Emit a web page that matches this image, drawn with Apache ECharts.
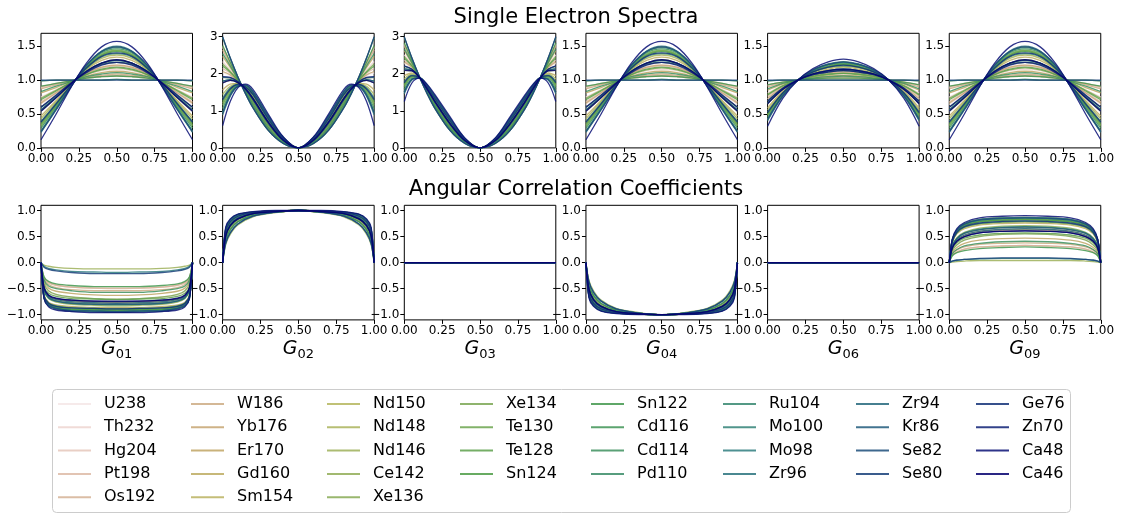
<!DOCTYPE html>
<html><head><meta charset="utf-8">
<script src="https://cdn.jsdelivr.net/npm/echarts@6/dist/echarts.min.js"></script>
<style>html,body{margin:0;padding:0;background:#fff}#c{width:1126px;height:515px}</style>
</head><body><div id="c"></div>
<script>
const isotopes = ['U238','Th232','Hg204','Pt198','Os192','W186','Yb176','Er170','Gd160','Sm154','Nd150','Nd148','Nd146','Ce142','Xe136','Xe134','Te130','Te128','Sn124','Sn122','Cd116','Cd114','Pd110','Ru104','Mo100','Mo98','Zr96','Zr94','Kr86','Se82','Se80','Ge76','Zn70','Ca48','Ca46'];
const xTop = [0,.1,.2,.3,.4,.5,.6,.7,.8,.9,1];
const xTop23 = [0,.05,.1,.15,.2,.3,.4,.5,.6,.7,.8,.85,.9,.95,1];
const xBot = [0,.02,.05,.1,.2,.35,.5,.65,.8,.9,.95,.98,1];
const xFlat = [0,1];
const xTickLabels = ['0.00','0.25','0.50','0.75','1.00'];
const xTickValues = [0,.25,.5,.75,1];
const yTicksSpec = [0,.5,1,1.5];
const yTicksSpec23 = [0,1,2,3];
const yTicksCorr = [-1,-.5,0,.5,1];
const panelLabels = ['01','02','03','04','06','09'];

const spec01 = [
[.64,.80,.96,1.10,1.20,1.23,1.20,1.10,.96,.80,.64],
[.75,.86,.97,1.07,1.14,1.16,1.14,1.07,.97,.86,.75],
[.89,.94,.99,1.03,1.06,1.07,1.06,1.03,.99,.94,.89],
[.68,.82,.96,1.09,1.18,1.21,1.18,1.09,.96,.82,.68],
[.90,.95,.99,1.03,1.05,1.06,1.05,1.03,.99,.95,.90],
[.87,.93,.99,1.04,1.07,1.09,1.07,1.04,.99,.93,.87],
[.66,.81,.96,1.10,1.19,1.22,1.19,1.10,.96,.81,.66],
[.81,.89,.98,1.06,1.11,1.13,1.11,1.06,.98,.89,.81],
[.47,.70,.94,1.15,1.29,1.34,1.29,1.15,.94,.70,.47],
[.60,.77,.95,1.12,1.23,1.26,1.23,1.12,.95,.77,.60],
[.24,.57,.91,1.22,1.42,1.49,1.42,1.22,.91,.57,.24],
[.43,.68,.94,1.16,1.32,1.37,1.32,1.16,.94,.68,.43],
[.99,1.00,1.00,1.00,1.00,1.01,1.00,1.00,1.00,1.00,.99],
[.54,.74,.95,1.13,1.25,1.30,1.25,1.13,.95,.74,.54],
[.34,.63,.93,1.19,1.37,1.43,1.37,1.19,.93,.63,.34],
[.73,.85,.97,1.08,1.15,1.18,1.15,1.08,.97,.85,.73],
[.32,.62,.92,1.19,1.38,1.44,1.38,1.19,.92,.62,.32],
[.71,.84,.97,1.08,1.16,1.19,1.16,1.08,.97,.84,.71],
[.36,.64,.93,1.18,1.36,1.42,1.36,1.18,.93,.64,.36],
[.91,.95,.99,1.03,1.05,1.06,1.05,1.03,.99,.95,.91],
[.29,.60,.92,1.20,1.40,1.46,1.40,1.20,.92,.60,.29],
[.83,.91,.98,1.05,1.09,1.11,1.09,1.05,.98,.91,.83],
[.39,.66,.93,1.17,1.34,1.39,1.34,1.17,.93,.66,.39],
[.56,.75,.95,1.13,1.25,1.29,1.25,1.13,.95,.75,.56],
[.25,.58,.92,1.21,1.42,1.48,1.42,1.21,.92,.58,.25],
[.99,1.00,1.00,1.00,1.00,1.01,1.00,1.00,1.00,1.00,.99],
[.23,.56,.91,1.22,1.43,1.50,1.43,1.22,.91,.56,.23],
[.60,.77,.95,1.12,1.23,1.26,1.23,1.12,.95,.77,.60],
[.56,.75,.95,1.13,1.25,1.29,1.25,1.13,.95,.75,.56],
[.24,.57,.91,1.22,1.42,1.49,1.42,1.22,.91,.57,.24],
[1.00,1.00,1.00,1.00,1.00,1.00,1.00,1.00,1.00,1.00,1.00],
[.38,.65,.93,1.18,1.35,1.40,1.35,1.18,.93,.65,.38],
[.60,.78,.96,1.11,1.22,1.26,1.22,1.11,.96,.78,.60],
[.12,.50,.90,1.25,1.49,1.57,1.49,1.25,.90,.50,.12],
[.54,.74,.95,1.13,1.25,1.30,1.25,1.13,.95,.74,.54]
];
const spec04 = spec01;
const spec09 = spec01;

const spec02 = [
[2.02,1.95,1.80,1.57,1.29,.66,.19,0,.19,.66,1.29,1.57,1.80,1.95,2.02],
[2.33,2.10,1.84,1.54,1.22,.60,.17,0,.17,.60,1.22,1.54,1.84,2.10,2.33],
[2.71,2.29,1.88,1.50,1.14,.53,.14,0,.14,.53,1.14,1.50,1.88,2.29,2.71],
[2.14,2.01,1.81,1.56,1.26,.64,.19,0,.19,.64,1.26,1.56,1.81,2.01,2.14],
[2.74,2.30,1.89,1.50,1.14,.53,.14,0,.14,.53,1.14,1.50,1.89,2.30,2.74],
[2.64,2.25,1.88,1.51,1.16,.55,.15,0,.15,.55,1.16,1.51,1.88,2.25,2.64],
[2.06,1.97,1.80,1.57,1.28,.65,.19,0,.19,.65,1.28,1.57,1.80,1.97,2.06],
[2.47,2.17,1.85,1.53,1.19,.58,.16,0,.16,.58,1.19,1.53,1.85,2.17,2.47],
[1.56,1.72,1.74,1.62,1.38,.74,.23,0,.23,.74,1.38,1.62,1.74,1.72,1.56],
[1.90,1.89,1.78,1.59,1.31,.68,.20,0,.20,.68,1.31,1.59,1.78,1.89,1.90],
[.94,1.42,1.66,1.69,1.51,.86,.28,0,.28,.86,1.51,1.69,1.66,1.42,.94],
[1.44,1.66,1.73,1.63,1.41,.77,.24,0,.24,.77,1.41,1.63,1.73,1.66,1.44],
[2.98,2.42,1.92,1.47,1.09,.48,.12,0,.12,.48,1.09,1.47,1.92,2.42,2.98],
[1.75,1.82,1.76,1.60,1.34,.71,.21,0,.21,.71,1.34,1.60,1.76,1.82,1.75],
[1.20,1.55,1.70,1.66,1.46,.81,.26,0,.26,.81,1.46,1.66,1.70,1.55,1.20],
[2.26,2.06,1.83,1.55,1.24,.62,.18,0,.18,.62,1.24,1.55,1.83,2.06,2.26],
[1.15,1.52,1.69,1.66,1.47,.82,.26,0,.26,.82,1.47,1.66,1.69,1.52,1.15],
[2.21,2.04,1.82,1.55,1.25,.63,.18,0,.18,.63,1.25,1.55,1.82,2.04,2.21],
[1.25,1.57,1.70,1.65,1.45,.80,.25,0,.25,.80,1.45,1.65,1.70,1.57,1.25],
[2.76,2.31,1.89,1.50,1.13,.52,.14,0,.14,.52,1.13,1.50,1.89,2.31,2.76],
[1.06,1.47,1.68,1.67,1.49,.84,.27,0,.27,.84,1.49,1.67,1.68,1.47,1.06],
[2.54,2.21,1.86,1.52,1.18,.56,.15,0,.15,.56,1.18,1.52,1.86,2.21,2.54],
[1.34,1.62,1.71,1.64,1.43,.78,.24,0,.24,.78,1.43,1.64,1.71,1.62,1.34],
[1.80,1.84,1.77,1.60,1.33,.70,.21,0,.21,.70,1.33,1.60,1.77,1.84,1.80],
[.96,1.43,1.67,1.68,1.51,.85,.27,0,.27,.85,1.51,1.68,1.67,1.43,.96],
[2.98,2.42,1.92,1.47,1.09,.48,.12,0,.12,.48,1.09,1.47,1.92,2.42,2.98],
[.89,1.39,1.66,1.69,1.52,.87,.28,0,.28,.87,1.52,1.69,1.66,1.39,.89],
[1.90,1.89,1.78,1.59,1.31,.68,.20,0,.20,.68,1.31,1.59,1.78,1.89,1.90],
[1.80,1.84,1.77,1.60,1.33,.70,.21,0,.21,.70,1.33,1.60,1.77,1.84,1.80],
[.94,1.42,1.66,1.69,1.51,.86,.28,0,.28,.86,1.51,1.69,1.66,1.42,.94],
[3.00,2.43,1.92,1.47,1.08,.48,.12,0,.12,.48,1.08,1.47,1.92,2.43,3.00],
[1.30,1.59,1.71,1.65,1.44,.79,.25,0,.25,.79,1.44,1.65,1.71,1.59,1.30],
[1.92,1.90,1.79,1.58,1.31,.68,.20,0,.20,.68,1.31,1.58,1.79,1.90,1.92],
[.60,1.25,1.62,1.72,1.58,.92,.30,0,.30,.92,1.58,1.72,1.62,1.25,.60],
[1.75,1.82,1.76,1.60,1.34,.71,.21,0,.21,.71,1.34,1.60,1.76,1.82,1.75]
];

const spec03 = [
[2.28,2.15,1.90,1.57,1.23,.63,.18,0,.18,.63,1.23,1.57,1.90,2.15,2.28],
[2.51,2.24,1.91,1.54,1.18,.58,.16,0,.16,.58,1.18,1.54,1.91,2.24,2.51],
[2.79,2.35,1.92,1.50,1.12,.52,.14,0,.14,.52,1.12,1.50,1.92,2.35,2.79],
[2.37,2.19,1.91,1.56,1.21,.61,.17,0,.17,.61,1.21,1.56,1.91,2.19,2.37],
[2.81,2.36,1.92,1.50,1.12,.52,.14,0,.14,.52,1.12,1.50,1.92,2.36,2.81],
[2.74,2.33,1.91,1.51,1.14,.54,.14,0,.14,.54,1.14,1.51,1.91,2.33,2.74],
[2.32,2.17,1.90,1.57,1.22,.62,.18,0,.18,.62,1.22,1.57,1.90,2.17,2.32],
[2.62,2.28,1.91,1.53,1.16,.56,.15,0,.15,.56,1.16,1.53,1.91,2.28,2.62],
[1.95,2.02,1.90,1.62,1.30,.70,.21,0,.21,.70,1.30,1.62,1.90,2.02,1.95],
[2.20,2.12,1.90,1.59,1.25,.65,.19,0,.19,.65,1.25,1.59,1.90,2.12,2.20],
[1.50,1.85,1.89,1.69,1.40,.80,.25,0,.25,.80,1.40,1.69,1.89,1.85,1.50],
[1.86,1.99,1.89,1.63,1.32,.72,.22,0,.22,.72,1.32,1.63,1.89,1.99,1.86],
[2.98,2.42,1.92,1.47,1.08,.48,.12,0,.12,.48,1.08,1.47,1.92,2.42,2.98],
[2.09,2.08,1.90,1.60,1.27,.67,.20,0,.20,.67,1.27,1.60,1.90,2.08,2.09],
[1.69,1.92,1.89,1.66,1.36,.76,.23,0,.23,.76,1.36,1.66,1.89,1.92,1.69],
[2.46,2.22,1.91,1.55,1.20,.60,.17,0,.17,.60,1.20,1.55,1.91,2.22,2.46],
[1.65,1.91,1.89,1.66,1.37,.77,.24,0,.24,.77,1.37,1.66,1.89,1.91,1.65],
[2.42,2.21,1.91,1.55,1.20,.60,.17,0,.17,.60,1.20,1.55,1.91,2.21,2.42],
[1.72,1.93,1.89,1.65,1.35,.75,.23,0,.23,.75,1.35,1.65,1.89,1.93,1.72],
[2.83,2.36,1.92,1.50,1.12,.52,.14,0,.14,.52,1.12,1.50,1.92,2.36,2.83],
[1.58,1.88,1.89,1.67,1.38,.78,.24,0,.24,.78,1.38,1.67,1.89,1.88,1.58],
[2.67,2.30,1.91,1.52,1.15,.55,.15,0,.15,.55,1.15,1.52,1.91,2.30,2.67],
[1.79,1.96,1.89,1.64,1.34,.74,.22,0,.22,.74,1.34,1.64,1.89,1.96,1.79],
[2.13,2.09,1.90,1.60,1.27,.67,.20,0,.20,.67,1.27,1.60,1.90,2.09,2.13],
[1.51,1.85,1.89,1.68,1.39,.79,.25,0,.25,.79,1.39,1.68,1.89,1.85,1.51],
[2.98,2.42,1.92,1.47,1.08,.48,.12,0,.12,.48,1.08,1.47,1.92,2.42,2.98],
[1.46,1.83,1.89,1.69,1.41,.81,.25,0,.25,.81,1.41,1.69,1.89,1.83,1.46],
[2.20,2.12,1.90,1.59,1.25,.65,.19,0,.19,.65,1.25,1.59,1.90,2.12,2.20],
[2.13,2.09,1.90,1.60,1.27,.67,.20,0,.20,.67,1.27,1.60,1.90,2.09,2.13],
[1.50,1.85,1.89,1.69,1.40,.80,.25,0,.25,.80,1.40,1.69,1.89,1.85,1.50],
[3.00,2.43,1.92,1.47,1.08,.48,.12,0,.12,.48,1.08,1.47,1.92,2.43,3.00],
[1.76,1.95,1.89,1.65,1.34,.74,.23,0,.23,.74,1.34,1.65,1.89,1.95,1.76],
[2.21,2.12,1.90,1.58,1.25,.65,.19,0,.19,.65,1.25,1.58,1.90,2.12,2.21],
[1.25,1.75,1.88,1.72,1.45,.85,.27,0,.27,.85,1.45,1.72,1.88,1.75,1.25],
[2.09,2.08,1.90,1.60,1.27,.67,.20,0,.20,.67,1.27,1.60,1.90,2.08,2.09]
];

const spec06 = [
[.72,.89,1,1.07,1.11,1.13,1.11,1.07,1,.89,.72],
[.81,.92,1,1.05,1.08,1.09,1.08,1.05,1,.92,.81],
[.92,.97,1,1.02,1.03,1.04,1.03,1.02,1,.97,.92],
[.76,.90,1,1.06,1.10,1.11,1.10,1.06,1,.90,.76],
[.93,.97,1,1.02,1.03,1.03,1.03,1.02,1,.97,.93],
[.90,.96,1,1.03,1.04,1.05,1.04,1.03,1,.96,.90],
[.73,.89,1,1.07,1.11,1.12,1.11,1.07,1,.89,.73],
[.85,.94,1,1.04,1.06,1.07,1.06,1.04,1,.94,.85],
[.59,.84,1,1.10,1.16,1.19,1.16,1.10,1,.84,.59],
[.69,.88,1,1.08,1.12,1.14,1.12,1.08,1,.88,.69],
[.42,.77,1,1.15,1.23,1.27,1.23,1.15,1,.77,.42],
[.56,.82,1,1.11,1.18,1.20,1.18,1.11,1,.82,.56],
[.99,1,1,1,1,1,1,1,1,1,.99],
[.65,.86,1,1.09,1.14,1.16,1.14,1.09,1,.86,.65],
[.49,.80,1,1.13,1.20,1.23,1.20,1.13,1,.80,.49],
[.79,.92,1,1.05,1.08,1.10,1.08,1.05,1,.92,.79],
[.48,.79,1,1.13,1.21,1.24,1.21,1.13,1,.79,.48],
[.78,.91,1,1.06,1.09,1.10,1.09,1.06,1,.91,.78],
[.50,.80,1,1.12,1.20,1.23,1.20,1.12,1,.80,.50],
[.93,.97,1,1.02,1.03,1.03,1.03,1.02,1,.97,.93],
[.45,.78,1,1.14,1.22,1.25,1.22,1.14,1,.78,.45],
[.87,.95,1,1.03,1.05,1.06,1.05,1.03,1,.95,.87],
[.53,.81,1,1.12,1.19,1.21,1.19,1.12,1,.81,.53],
[.66,.87,1,1.09,1.14,1.16,1.14,1.09,1,.87,.66],
[.42,.77,1,1.14,1.23,1.26,1.23,1.14,1,.77,.42],
[.99,1,1,1,1,1,1,1,1,1,.99],
[.40,.76,1,1.15,1.24,1.27,1.24,1.15,1,.76,.40],
[.69,.88,1,1.08,1.12,1.14,1.12,1.08,1,.88,.69],
[.66,.87,1,1.09,1.14,1.16,1.14,1.09,1,.87,.66],
[.42,.77,1,1.15,1.23,1.27,1.23,1.15,1,.77,.42],
[1,1,1,1,1,1,1,1,1,1,1],
[.52,.81,1,1.12,1.19,1.22,1.19,1.12,1,.81,.52],
[.69,.88,1,1.08,1.12,1.14,1.12,1.08,1,.88,.69],
[.32,.73,1,1.17,1.27,1.31,1.27,1.17,1,.73,.32],
[.65,.86,1,1.09,1.14,1.16,1.14,1.09,1,.86,.65]
];

const corr01 = [
[0,-.51,-.65,-.71,-.75,-.77,-.78,-.77,-.75,-.71,-.65,-.51,0],
[0,-.41,-.55,-.62,-.66,-.69,-.70,-.69,-.66,-.62,-.55,-.41,0],
[0,-.29,-.39,-.44,-.47,-.49,-.50,-.49,-.47,-.44,-.39,-.29,0],
[0,-.49,-.64,-.70,-.73,-.75,-.76,-.75,-.73,-.70,-.64,-.49,0],
[0,-.28,-.38,-.43,-.47,-.49,-.49,-.49,-.47,-.43,-.38,-.28,0],
[0,-.31,-.42,-.48,-.52,-.54,-.54,-.54,-.52,-.48,-.42,-.31,0],
[0,-.50,-.64,-.70,-.74,-.76,-.77,-.76,-.74,-.70,-.64,-.50,0],
[0,-.36,-.49,-.55,-.59,-.62,-.63,-.62,-.59,-.55,-.49,-.36,0],
[0,-.62,-.76,-.81,-.84,-.86,-.86,-.86,-.84,-.81,-.76,-.62,0],
[0,-.52,-.67,-.73,-.77,-.79,-.80,-.79,-.77,-.73,-.67,-.52,0],
[0,-.68,-.83,-.89,-.93,-.94,-.95,-.94,-.93,-.89,-.83,-.68,0],
[0,-.63,-.77,-.83,-.86,-.88,-.88,-.88,-.86,-.83,-.77,-.63,0],
[0,-.05,-.07,-.09,-.11,-.12,-.12,-.12,-.11,-.09,-.07,-.05,0],
[0,-.54,-.69,-.76,-.80,-.82,-.83,-.82,-.80,-.76,-.69,-.54,0],
[0,-.66,-.80,-.86,-.90,-.91,-.91,-.91,-.90,-.86,-.80,-.66,0],
[0,-.40,-.54,-.61,-.66,-.69,-.70,-.69,-.66,-.61,-.54,-.40,0],
[0,-.66,-.81,-.86,-.90,-.91,-.92,-.91,-.90,-.86,-.81,-.66,0],
[0,-.46,-.59,-.65,-.69,-.70,-.71,-.70,-.69,-.65,-.59,-.46,0],
[0,-.65,-.80,-.85,-.89,-.90,-.91,-.90,-.89,-.85,-.80,-.65,0],
[0,-.27,-.36,-.41,-.44,-.46,-.46,-.46,-.44,-.41,-.36,-.27,0],
[0,-.67,-.82,-.87,-.91,-.92,-.93,-.92,-.91,-.87,-.82,-.67,0],
[0,-.33,-.45,-.50,-.54,-.57,-.57,-.57,-.54,-.50,-.45,-.33,0],
[0,-.64,-.78,-.83,-.87,-.88,-.89,-.88,-.87,-.83,-.78,-.64,0],
[0,-.52,-.68,-.74,-.78,-.80,-.81,-.80,-.78,-.74,-.68,-.52,0],
[0,-.67,-.82,-.88,-.92,-.93,-.94,-.93,-.92,-.88,-.82,-.67,0],
[0,-.07,-.11,-.14,-.17,-.18,-.19,-.18,-.17,-.14,-.11,-.07,0],
[0,-.68,-.83,-.89,-.93,-.94,-.95,-.94,-.93,-.89,-.83,-.68,0],
[0,-.51,-.65,-.71,-.75,-.77,-.78,-.77,-.75,-.71,-.65,-.51,0],
[0,-.52,-.67,-.74,-.78,-.80,-.80,-.80,-.78,-.74,-.67,-.52,0],
[0,-.67,-.82,-.88,-.92,-.93,-.94,-.93,-.92,-.88,-.82,-.67,0],
[0,-.09,-.13,-.16,-.19,-.21,-.21,-.21,-.19,-.16,-.13,-.09,0],
[0,-.64,-.78,-.84,-.87,-.88,-.89,-.88,-.87,-.84,-.78,-.64,0],
[0,-.48,-.63,-.69,-.72,-.74,-.75,-.74,-.72,-.69,-.63,-.48,0],
[0,-.69,-.85,-.91,-.94,-.96,-.96,-.96,-.94,-.91,-.85,-.69,0],
[0,-.48,-.62,-.68,-.72,-.74,-.74,-.74,-.72,-.68,-.62,-.48,0]
];

const corr02 = [
[0,.51,.71,.84,.94,.98,1,.98,.94,.84,.71,.51,0],
[0,.49,.69,.83,.93,.98,1,.98,.93,.83,.69,.49,0],
[0,.44,.64,.79,.91,.97,1,.97,.91,.79,.64,.44,0],
[0,.51,.71,.84,.94,.98,1,.98,.94,.84,.71,.51,0],
[0,.44,.64,.79,.91,.97,1,.97,.91,.79,.64,.44,0],
[0,.44,.64,.79,.91,.97,1,.97,.91,.79,.64,.44,0],
[0,.51,.71,.84,.94,.98,1,.98,.94,.84,.71,.51,0],
[0,.46,.66,.81,.92,.98,1,.98,.92,.81,.66,.46,0],
[0,.56,.76,.87,.95,.99,1,.99,.95,.87,.76,.56,0],
[0,.53,.73,.86,.94,.98,1,.98,.94,.86,.73,.53,0],
[0,.65,.82,.92,.97,.99,1,.99,.97,.92,.82,.65,0],
[0,.56,.76,.87,.95,.99,1,.99,.95,.87,.76,.56,0],
[0,.34,.54,.72,.88,.96,1,.96,.88,.72,.54,.34,0],
[0,.53,.73,.86,.94,.98,1,.98,.94,.86,.73,.53,0],
[0,.59,.78,.89,.96,.99,1,.99,.96,.89,.78,.59,0],
[0,.49,.69,.83,.93,.98,1,.98,.93,.83,.69,.49,0],
[0,.62,.80,.90,.96,.99,1,.99,.96,.90,.80,.62,0],
[0,.49,.69,.83,.93,.98,1,.98,.93,.83,.69,.49,0],
[0,.59,.78,.89,.96,.99,1,.99,.96,.89,.78,.59,0],
[0,.42,.62,.78,.91,.97,1,.97,.91,.78,.62,.42,0],
[0,.62,.80,.90,.96,.99,1,.99,.96,.90,.80,.62,0],
[0,.44,.64,.79,.91,.97,1,.97,.91,.79,.64,.44,0],
[0,.59,.78,.89,.96,.99,1,.99,.96,.89,.78,.59,0],
[0,.53,.73,.86,.94,.98,1,.98,.94,.86,.73,.53,0],
[0,.65,.82,.92,.97,.99,1,.99,.97,.92,.82,.65,0],
[0,.37,.57,.74,.89,.97,1,.97,.89,.74,.57,.37,0],
[0,.65,.82,.92,.97,.99,1,.99,.97,.92,.82,.65,0],
[0,.51,.71,.84,.94,.98,1,.98,.94,.84,.71,.51,0],
[0,.53,.73,.86,.94,.98,1,.98,.94,.86,.73,.53,0],
[0,.65,.82,.92,.97,.99,1,.99,.97,.92,.82,.65,0],
[0,.37,.57,.74,.89,.97,1,.97,.89,.74,.57,.37,0],
[0,.59,.78,.89,.96,.99,1,.99,.96,.89,.78,.59,0],
[0,.51,.71,.84,.94,.98,1,.98,.94,.84,.71,.51,0],
[0,.68,.84,.93,.98,1,1,1,.98,.93,.84,.68,0],
[0,.51,.71,.84,.94,.98,1,.98,.94,.84,.71,.51,0]
];

const corr04 = [
[0,-.51,-.71,-.84,-.94,-.98,-1,-.98,-.94,-.84,-.71,-.51,0],
[0,-.49,-.69,-.83,-.93,-.98,-1,-.98,-.93,-.83,-.69,-.49,0],
[0,-.44,-.64,-.79,-.91,-.97,-1,-.97,-.91,-.79,-.64,-.44,0],
[0,-.51,-.71,-.84,-.94,-.98,-1,-.98,-.94,-.84,-.71,-.51,0],
[0,-.44,-.64,-.79,-.91,-.97,-1,-.97,-.91,-.79,-.64,-.44,0],
[0,-.44,-.64,-.79,-.91,-.97,-1,-.97,-.91,-.79,-.64,-.44,0],
[0,-.51,-.71,-.84,-.94,-.98,-1,-.98,-.94,-.84,-.71,-.51,0],
[0,-.46,-.66,-.81,-.92,-.98,-1,-.98,-.92,-.81,-.66,-.46,0],
[0,-.56,-.76,-.87,-.95,-.99,-1,-.99,-.95,-.87,-.76,-.56,0],
[0,-.53,-.73,-.86,-.94,-.98,-1,-.98,-.94,-.86,-.73,-.53,0],
[0,-.65,-.82,-.92,-.97,-.99,-1,-.99,-.97,-.92,-.82,-.65,0],
[0,-.56,-.76,-.87,-.95,-.99,-1,-.99,-.95,-.87,-.76,-.56,0],
[0,-.34,-.54,-.72,-.88,-.96,-1,-.96,-.88,-.72,-.54,-.34,0],
[0,-.53,-.73,-.86,-.94,-.98,-1,-.98,-.94,-.86,-.73,-.53,0],
[0,-.59,-.78,-.89,-.96,-.99,-1,-.99,-.96,-.89,-.78,-.59,0],
[0,-.49,-.69,-.83,-.93,-.98,-1,-.98,-.93,-.83,-.69,-.49,0],
[0,-.62,-.80,-.90,-.96,-.99,-1,-.99,-.96,-.90,-.80,-.62,0],
[0,-.49,-.69,-.83,-.93,-.98,-1,-.98,-.93,-.83,-.69,-.49,0],
[0,-.59,-.78,-.89,-.96,-.99,-1,-.99,-.96,-.89,-.78,-.59,0],
[0,-.42,-.62,-.78,-.91,-.97,-1,-.97,-.91,-.78,-.62,-.42,0],
[0,-.62,-.80,-.90,-.96,-.99,-1,-.99,-.96,-.90,-.80,-.62,0],
[0,-.44,-.64,-.79,-.91,-.97,-1,-.97,-.91,-.79,-.64,-.44,0],
[0,-.59,-.78,-.89,-.96,-.99,-1,-.99,-.96,-.89,-.78,-.59,0],
[0,-.53,-.73,-.86,-.94,-.98,-1,-.98,-.94,-.86,-.73,-.53,0],
[0,-.65,-.82,-.92,-.97,-.99,-1,-.99,-.97,-.92,-.82,-.65,0],
[0,-.37,-.57,-.74,-.89,-.97,-1,-.97,-.89,-.74,-.57,-.37,0],
[0,-.65,-.82,-.92,-.97,-.99,-1,-.99,-.97,-.92,-.82,-.65,0],
[0,-.51,-.71,-.84,-.94,-.98,-1,-.98,-.94,-.84,-.71,-.51,0],
[0,-.53,-.73,-.86,-.94,-.98,-1,-.98,-.94,-.86,-.73,-.53,0],
[0,-.65,-.82,-.92,-.97,-.99,-1,-.99,-.97,-.92,-.82,-.65,0],
[0,-.37,-.57,-.74,-.89,-.97,-1,-.97,-.89,-.74,-.57,-.37,0],
[0,-.59,-.78,-.89,-.96,-.99,-1,-.99,-.96,-.89,-.78,-.59,0],
[0,-.51,-.71,-.84,-.94,-.98,-1,-.98,-.94,-.84,-.71,-.51,0],
[0,-.68,-.84,-.93,-.98,-1,-1,-1,-.98,-.93,-.84,-.68,0],
[0,-.51,-.71,-.84,-.94,-.98,-1,-.98,-.94,-.84,-.71,-.51,0]
];

const corr09 = [
[0,.30,.44,.53,.60,.64,.65,.64,.60,.53,.44,.30,0],
[0,.24,.35,.44,.51,.55,.56,.55,.51,.44,.35,.24,0],
[0,.14,.20,.26,.30,.32,.33,.32,.30,.26,.20,.14,0],
[0,.29,.42,.52,.59,.62,.63,.62,.59,.52,.42,.29,0],
[0,.14,.20,.26,.30,.32,.33,.32,.30,.26,.20,.14,0],
[0,.16,.24,.30,.35,.37,.38,.37,.35,.30,.24,.16,0],
[0,.29,.43,.52,.60,.63,.64,.63,.60,.52,.43,.29,0],
[0,.20,.29,.37,.43,.46,.47,.46,.43,.37,.29,.20,0],
[0,.38,.55,.65,.72,.75,.76,.75,.72,.65,.55,.38,0],
[0,.31,.46,.56,.63,.67,.68,.67,.63,.56,.46,.31,0],
[0,.44,.63,.75,.83,.86,.87,.86,.83,.75,.63,.44,0],
[0,.39,.56,.67,.74,.77,.78,.77,.74,.67,.56,.39,0],
[0,.01,.02,.03,.04,.04,.04,.04,.04,.03,.02,.01,0],
[0,.33,.48,.58,.66,.70,.71,.70,.66,.58,.48,.33,0],
[0,.42,.60,.71,.79,.82,.83,.82,.79,.71,.60,.42,0],
[0,.23,.34,.43,.50,.54,.55,.54,.50,.43,.34,.23,0],
[0,.42,.60,.71,.79,.82,.83,.82,.79,.71,.60,.42,0],
[0,.26,.38,.47,.53,.56,.57,.56,.53,.47,.38,.26,0],
[0,.41,.59,.71,.78,.81,.82,.81,.78,.71,.59,.41,0],
[0,.13,.19,.23,.27,.29,.30,.29,.27,.23,.19,.13,0],
[0,.43,.61,.73,.81,.84,.85,.84,.81,.73,.61,.43,0],
[0,.17,.25,.32,.37,.40,.41,.40,.37,.32,.25,.17,0],
[0,.40,.57,.68,.75,.78,.79,.78,.75,.68,.57,.40,0],
[0,.32,.46,.57,.64,.68,.69,.68,.64,.57,.46,.32,0],
[0,.43,.62,.74,.82,.85,.86,.85,.82,.74,.62,.43,0],
[0,.03,.04,.06,.07,.08,.08,.08,.07,.06,.04,.03,0],
[0,.44,.63,.75,.83,.86,.87,.86,.83,.75,.63,.44,0],
[0,.30,.44,.53,.60,.64,.65,.64,.60,.53,.44,.30,0],
[0,.31,.46,.56,.63,.67,.68,.67,.63,.56,.46,.31,0],
[0,.43,.62,.74,.82,.85,.86,.85,.82,.74,.62,.43,0],
[0,.03,.05,.06,.08,.09,.09,.09,.08,.06,.05,.03,0],
[0,.40,.58,.69,.76,.79,.80,.79,.76,.69,.58,.40,0],
[0,.28,.41,.50,.57,.60,.61,.60,.57,.50,.41,.28,0],
[0,.45,.65,.77,.86,.89,.90,.89,.86,.77,.65,.45,0],
[0,.28,.41,.50,.57,.60,.61,.60,.57,.50,.41,.28,0]
];

const corr03 = [[0,0],[0,0],[0,0],[0,0],[0,0],[0,0],[0,0],[0,0],[0,0],[0,0],[0,0],[0,0],[0,0],[0,0],[0,0],[0,0],[0,0],[0,0],[0,0],[0,0],[0,0],[0,0],[0,0],[0,0],[0,0],[0,0],[0,0],[0,0],[0,0],[0,0],[0,0],[0,0],[0,0],[0,0],[0,0]];
const corr06 = [[0,0],[0,0],[0,0],[0,0],[0,0],[0,0],[0,0],[0,0],[0,0],[0,0],[0,0],[0,0],[0,0],[0,0],[0,0],[0,0],[0,0],[0,0],[0,0],[0,0],[0,0],[0,0],[0,0],[0,0],[0,0],[0,0],[0,0],[0,0],[0,0],[0,0],[0,0],[0,0],[0,0],[0,0],[0,0]];

// ---- colormap (gist_earth, reversed) ----
const RT=[[0,0],[.2824,.1882],[.4588,.2714],[.5490,.4719],[.6980,.7176],[.7882,.7553],[1,.9922]];
const GT=[[0,0],[.0275,0],[.1098,.1893],[.1647,.3035],[.2078,.3841],[.2824,.5020],[.5216,.6397],[.6980,.7171],[.7882,.6392],[.7922,.6413],[.8000,.6447],[.8078,.6481],[.8157,.6549],[.8667,.6991],[.8745,.7103],[.8824,.7216],[.8902,.7323],[.8980,.7430],[.9412,.8275],[.9569,.8635],[.9647,.8816],[.9961,.9733],[1,.9843]];
const BT=[[0,0],[.0039,.1684],[.0078,.2212],[.0275,.4329],[.0314,.4549],[.2824,.5004],[.4667,.2748],[.5451,.3205],[.7843,.3961],[.8941,.6651],[1,.9843]];
function interp(tab,t){for(let i=1;i<tab.length;i++){if(t<=tab[i][0]){const a=tab[i-1],b=tab[i];return a[1]+(b[1]-a[1])*(t-a[0])/(b[0]-a[0]);}}return tab[tab.length-1][1];}
function cmap(t){return 'rgb('+[RT,GT,BT].map(tb=>Math.round(255*interp(tb,t))).join(',')+')';}
const colors = isotopes.map((_,i)=>cmap(1-(i+1)/36));

const FONT='DejaVu Sans';
const panels = [
 {xs:xTop,data:spec01,ymin:0,ymax:1.69,yt:yTicksSpec,dec:1,sm:.35},
 {xs:xTop23,data:spec02,ymin:0,ymax:3.09,yt:yTicksSpec23,dec:0,sm:.35},
 {xs:xTop23,data:spec03,ymin:0,ymax:3.09,yt:yTicksSpec23,dec:0,sm:.35},
 {xs:xTop,data:spec04,ymin:0,ymax:1.69,yt:yTicksSpec,dec:1,sm:.35},
 {xs:xTop,data:spec06,ymin:0,ymax:1.69,yt:yTicksSpec,dec:1,sm:.35},
 {xs:xTop,data:spec09,ymin:0,ymax:1.69,yt:yTicksSpec,dec:1,sm:.35},
 {xs:xBot,data:corr01,ymin:-1.1,ymax:1.1,yt:yTicksCorr,dec:1,sm:.3},
 {xs:xBot,data:corr02,ymin:-1.1,ymax:1.1,yt:yTicksCorr,dec:1,sm:.3},
 {xs:xFlat,data:corr03,ymin:-1.1,ymax:1.1,yt:yTicksCorr,dec:1,sm:false},
 {xs:xBot,data:corr04,ymin:-1.1,ymax:1.1,yt:yTicksCorr,dec:1,sm:.3},
 {xs:xFlat,data:corr06,ymin:-1.1,ymax:1.1,yt:yTicksCorr,dec:1,sm:false},
 {xs:xBot,data:corr09,ymin:-1.1,ymax:1.1,yt:yTicksCorr,dec:1,sm:.3}
];
const L0=41, STEP=181.65, W=151.5, TOPS=[33.3,205.3], H=114.6;
const grids=[],xAxes=[],yAxes=[],series=[];
const fmtNum=(v,d)=>{const s=Math.abs(v).toFixed(d);return (v<0?'\u2212':'')+s;};
panels.forEach((p,k)=>{
  const row=Math.floor(k/6), col=k%6;
  grids.push({left:L0+col*STEP,top:TOPS[row],width:W,height:H,show:true,borderColor:'#000',borderWidth:1,backgroundColor:'transparent'});
  xAxes.push({gridIndex:k,type:'value',min:0,max:1,position:'bottom',
    axisLine:{show:false,onZero:false},splitLine:{show:false},
    axisTick:{show:true,customValues:xTickValues,length:4,lineStyle:{color:'#000',width:1}},
    axisLabel:{show:true,customValues:xTickValues,formatter:v=>xTickLabels[xTickValues.indexOf(v)]||v.toFixed(2),fontSize:12,color:'#000',fontFamily:FONT,margin:5}});
  yAxes.push({gridIndex:k,type:'value',min:p.ymin,max:p.ymax,position:'left',
    axisLine:{show:false,onZero:false},splitLine:{show:false},
    axisTick:{show:true,customValues:p.yt,length:4,lineStyle:{color:'#000',width:1}},
    axisLabel:{show:true,customValues:p.yt,formatter:v=>fmtNum(v,p.dec),fontSize:12,color:'#000',fontFamily:FONT,margin:5}});
  p.data.forEach((vals,i)=>{
    series.push({type:'line',name:isotopes[i],xAxisIndex:k,yAxisIndex:k,
      data:p.xs.map((x,j)=>[x,vals[j]]),showSymbol:false,symbol:'none',smooth:p.sm,
      lineStyle:{width:1.3,color:colors[i],opacity:.85},itemStyle:{color:colors[i],opacity:.85},
      emphasis:{disabled:true},silent:true,animation:false});
  });
});
const titles=[
 {text:'Single Electron Spectra',left:571,top:2,textAlign:'center',textStyle:{fontSize:21,fontWeight:'normal',fontFamily:FONT,color:'#000'}},
 {text:'Angular Correlation Coefficients',left:571,top:174,textAlign:'center',textStyle:{fontSize:21,fontWeight:'normal',fontFamily:FONT,color:'#000'}}
];
panelLabels.forEach((lab,c)=>{
  titles.push({text:'{g|G}{s|'+lab+'}',left:L0+c*STEP+W/2,top:337,textAlign:'center',padding:0,
    textStyle:{fontWeight:'normal',rich:{g:{fontSize:19,fontStyle:'italic',fontWeight:'normal',fontFamily:FONT,color:'#000',lineHeight:24,verticalAlign:'middle'},
                     s:{fontSize:13,fontWeight:'normal',fontFamily:FONT,color:'#000',lineHeight:12,verticalAlign:'bottom'}}}});
});
const colSplits=[[0,5],[5,10],[10,15],[15,19],[19,23],[23,27],[27,31],[31,35]];
const colLefts=[58,191,327,460,591,723,856,976];
const legends=colSplits.map((s,c)=>({orient:'vertical',left:colLefts[c],top:395,padding:0,itemGap:5.3,
  itemWidth:33,itemHeight:2,icon:'rect',selectedMode:false,z:10,
  data:isotopes.slice(s[0],s[1]),
  textStyle:{fontSize:16,fontFamily:FONT,color:'#000',lineHeight:18,padding:[0,0,0,8]}}));
const chart=echarts.init(document.getElementById('c'),null,{renderer:'canvas'});
chart.setOption({animation:false,backgroundColor:'#fff',title:titles,grid:grids,xAxis:xAxes,yAxis:yAxes,series:series,legend:legends,
  graphic:[{type:'rect',shape:{x:52.5,y:389.5,width:1018,height:123,r:4},style:{fill:'#fff',stroke:'#cccccc',lineWidth:1},z:0}]});
</script></body></html>
